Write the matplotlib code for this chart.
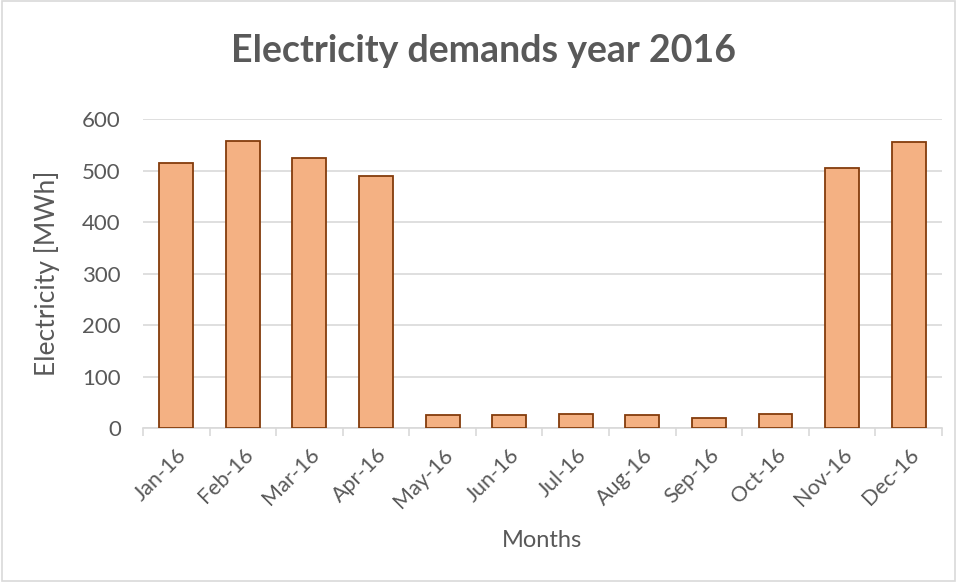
import matplotlib.pyplot as plt
import numpy as np

# Monthly electricity demand
months = ['Jan-16', 'Feb-16', 'Mar-16', 'Apr-16', 'May-16', 'Jun-16',
          'Jul-16', 'Aug-16', 'Sep-16', 'Oct-16', 'Nov-16', 'Dec-16']
demand = [514, 558, 524, 489, 26, 25, 28, 25, 19, 27, 505, 555]
y_ticks = [0, 100, 200, 300, 400, 500, 600]

text_color = '#595959'
grid_color = '#D9D9D9'
plt.rcParams['font.family'] = ['Lato', 'DejaVu Sans']

fig = plt.figure(figsize=(9.57, 5.82), dpi=100)
ax = fig.add_axes([0.1494, 0.2646, 0.8349, 0.5309])

x = np.arange(len(months))
ax.bar(x, demand, width=0.51, color='#F4B183', edgecolor='#843C0C', linewidth=1.3, zorder=3)

ax.set_xlim(-0.5, len(months) - 0.5)
ax.set_ylim(0, 600)
ax.set_yticks(y_ticks)
ax.set_yticklabels([str(v) for v in y_ticks], color=text_color, fontsize=16)
ax.tick_params(axis='y', length=0, pad=16)
ax.yaxis.grid(True, color=grid_color, linewidth=1.2, zorder=0)

ax.set_xticks(x)
ax.set_xticklabels(months, rotation=45, ha='right', rotation_mode='anchor',
                   color=text_color, fontsize=15.5)
ax.tick_params(axis='x', length=0, pad=12)
# Tick marks between categories
ax.set_xticks(np.arange(-0.5, len(months)), minor=True)
ax.tick_params(axis='x', which='minor', length=6, color=grid_color, width=1.2)

for side in ['top', 'right', 'left']:
    ax.spines[side].set_visible(False)
ax.spines['bottom'].set_color(grid_color)
ax.spines['bottom'].set_linewidth(1.2)

ax.set_ylabel('Electricity [MWh]', color=text_color, fontsize=19, labelpad=16)
ax.set_xlabel('Months', color=text_color, fontsize=17, labelpad=13)

fig.text(0.505, 0.912, 'Electricity demands year 2016', ha='center', va='center',
         fontsize=27, fontweight='bold', color=text_color)

# Light border round the chart area
fig.patches.append(plt.Rectangle((0.002, 0.002), 0.996, 0.996, transform=fig.transFigure,
                                 fill=False, edgecolor=grid_color, linewidth=1.2))

fig.savefig('out.png', dpi=100)
